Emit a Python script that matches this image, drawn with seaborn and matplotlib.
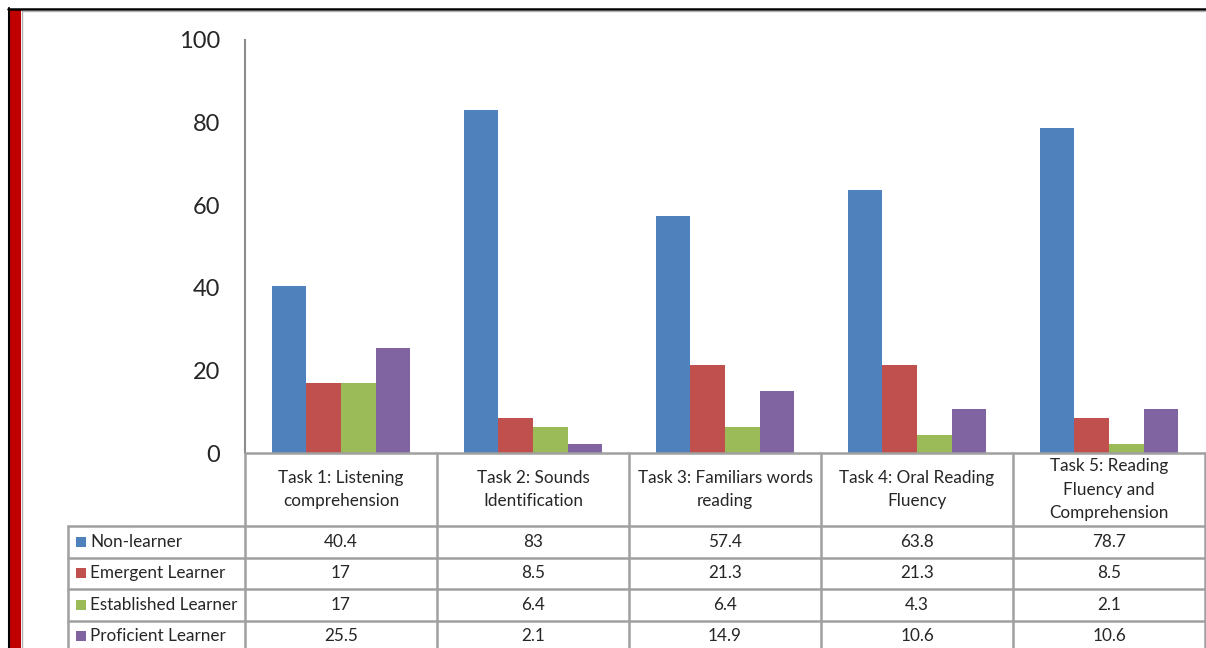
import matplotlib
matplotlib.use("Agg")
import matplotlib.pyplot as plt
from matplotlib.lines import Line2D
from matplotlib.patches import Rectangle
from matplotlib.transforms import blended_transform_factory
import pandas as pd
import seaborn as sns

# ---- data -------------------------------------------------------------
tasks = [
    "Task 1: Listening\ncomprehension",
    "Task 2: Sounds\nIdentification",
    "Task 3: Familiars words\nreading",
    "Task 4: Oral Reading\nFluency",
    "Task 5: Reading\nFluency and\nComprehension",
]
levels = ["Non-learner", "Emergent Learner", "Established Learner", "Proficient Learner"]
non_learner = [40.4, 83, 57.4, 63.8, 78.7]
emergent = [17, 8.5, 21.3, 21.3, 8.5]
established = [17, 6.4, 6.4, 4.3, 2.1]
proficient = [25.5, 2.1, 14.9, 10.6, 10.6]
value_labels = [
    ["40.4", "83", "57.4", "63.8", "78.7"],
    ["17", "8.5", "21.3", "21.3", "8.5"],
    ["17", "6.4", "6.4", "4.3", "2.1"],
    ["25.5", "2.1", "14.9", "10.6", "10.6"],
]
colors = ["#4F81BD", "#C0504D", "#9BBB59", "#8064A2"]
y_ticks = [0, 20, 40, 60, 80, 100]

series = [non_learner, emergent, established, proficient]
df = pd.DataFrame(
    [(t, lvl, v) for lvl, vals in zip(levels, series) for t, v in zip(tasks, vals)],
    columns=["task", "level", "value"],
)

# ---- figure -----------------------------------------------------------
sns.set_style("white")
plt.rcParams["font.family"] = ["Lato", "DejaVu Sans"]

W, H = 1206, 648
fig = plt.figure(figsize=(W / 100, H / 100), dpi=100)


def fx(px):
    return px / W


def fy(py):
    return (H - py) / H


ax = fig.add_axes([fx(245), fy(453), fx(1205) - fx(245), fy(40) - fy(453)])
sns.barplot(
    data=df, x="task", y="value", hue="level", order=tasks, hue_order=levels,
    palette=colors, width=0.72, saturation=1, legend=False, linewidth=0, ax=ax,
)
ax.set_ylim(0, 100)
ax.set_xlim(-0.5, len(tasks) - 0.5)
ax.set_yticks(y_ticks)
ax.set_yticklabels([str(t) for t in y_ticks], fontsize=17)
ax.tick_params(axis="y", length=0, pad=18)
ax.set_xticks([])
ax.set_xlabel("")
ax.set_ylabel("")
for s in ["top", "right", "bottom"]:
    ax.spines[s].set_visible(False)
ax.spines["left"].set_color("#8c8c8c")
ax.spines["left"].set_linewidth(1.5)

# ---- data table beneath the bars --------------------------------------
grid = "#a0a0a0"
lw = 1.8
fs = 12.3
tr = blended_transform_factory(ax.transData, fig.transFigure)
row_tops = [453, 526, 557.5, 589, 620.5, 652]
left_px = 68

# horizontal rules
fig.add_artist(Line2D([-0.5, len(tasks) - 0.5], [fy(453)] * 2, transform=tr, color=grid, lw=lw))
for py in row_tops[1:]:
    fig.add_artist(Line2D([fx(left_px), fx(1205)], [fy(py)] * 2,
                          transform=fig.transFigure, color=grid, lw=lw))
# vertical rules
for i in range(len(tasks) + 1):
    fig.add_artist(Line2D([i - 0.5] * 2, [fy(453), fy(660)], transform=tr, color=grid, lw=lw))
fig.add_artist(Line2D([fx(left_px)] * 2, [fy(526), fy(660)],
                      transform=fig.transFigure, color=grid, lw=lw))

# header row: category names
for i, t in enumerate(tasks):
    fig.text(i, fy((row_tops[0] + row_tops[1]) / 2), t, transform=tr,
             ha="center", va="center", fontsize=fs, linespacing=1.6)

# value rows with legend keys
for r, (lvl, col, labs) in enumerate(zip(levels, colors, value_labels)):
    yc = fy((row_tops[r + 1] + row_tops[r + 2]) / 2)
    fig.add_artist(Rectangle((fx(76), yc - 5 / H), 10 / W, 10 / H,
                             transform=fig.transFigure, color=col, lw=0))
    fig.text(fx(90), yc, lvl, ha="left", va="center", fontsize=fs)
    for i, lab in enumerate(labs):
        fig.text(i, yc, lab, transform=tr, ha="center", va="center", fontsize=fs)

# ---- page frame --------------------------------------------------------
fig.add_artist(Rectangle((fx(9), 0), fx(12), fy(9), transform=fig.transFigure,
                         color="#C00000", lw=0))
fig.add_artist(Line2D([fx(8.5)] * 2, [0, fy(8)], transform=fig.transFigure, color="black", lw=1.5))
fig.add_artist(Line2D([fx(22)] * 2, [0, fy(10)], transform=fig.transFigure, color="#b0b0b0", lw=1))
fig.add_artist(Line2D([fx(8), 1], [fy(8.5)] * 2, transform=fig.transFigure, color="black", lw=1.8))
fig.add_artist(Line2D([fx(22), 1], [fy(10.5)] * 2, transform=fig.transFigure, color="#b0b0b0", lw=1))

fig.savefig("out.png", dpi=100)
